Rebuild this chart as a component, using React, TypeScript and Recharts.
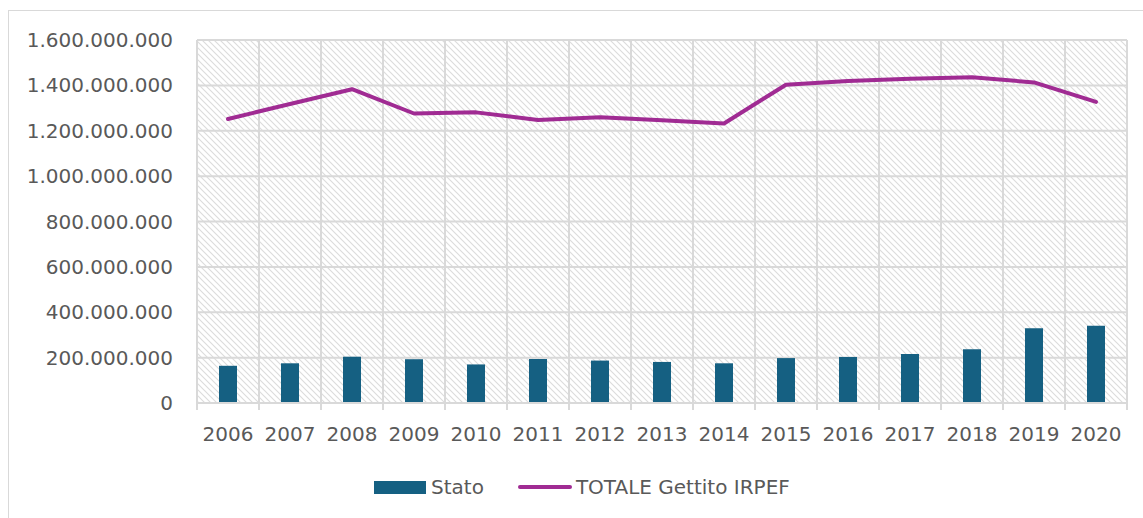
import React from "react";
import {
  ComposedChart,
  Bar,
  Line,
  XAxis,
  YAxis,
  CartesianGrid,
} from "recharts";

const years = ["2006", "2007", "2008", "2009", "2010", "2011", "2012", "2013", "2014", "2015", "2016", "2017", "2018", "2019", "2020"];
// values in millions of euro
const statoMillions = [164, 175, 204, 193, 170, 194, 187, 181, 175, 198, 203, 216, 237, 329, 341];
const totaleMillions = [1252, 1318, 1383, 1276, 1281, 1247, 1259, 1246, 1232, 1403, 1419, 1429, 1436, 1413, 1327];
const yTicks = [0, 200000000, 400000000, 600000000, 800000000, 1000000000, 1200000000, 1400000000, 1600000000];

const seriesNames = { stato: "Stato", totale: "TOTALE Gettito IRPEF" };

const data = years.map((y, i) => ({
  year: y,
  stato: statoMillions[i] * 1000000,
  totale: totaleMillions[i] * 1000000,
}));

const FONT = "'DejaVu Sans', sans-serif";
const TEXT = "#595959";
const GRID = "#d9d9d9";
const BAR = "#156082";
const LINE = "#A02B93";

const W = 1143;
const H = 518;

const fmt = (v: number) =>
  v === 0 ? "0" : Math.round(v).toString().replace(/\B(?=(\d{3})+(?!\d))/g, ".");

const XTick = (props: any) => {
  const { x, y, payload, index, visibleTicksCount } = props;
  const half = payload && typeof payload.offset === "number" ? payload.offset : 31;
  const axisY = y - 7;
  const last = index === (visibleTicksCount ?? years.length) - 1;
  return (
    <g>
      <line x1={x - half} x2={x - half} y1={axisY} y2={axisY + 7} stroke={GRID} strokeWidth={2} />
      {last && <line x1={x + half} x2={x + half} y1={axisY} y2={axisY + 7} stroke={GRID} strokeWidth={2} />}
      <text x={x} y={axisY + 38} textAnchor="middle" fill={TEXT} fontFamily={FONT} fontSize={20}>
        {payload.value}
      </text>
    </g>
  );
};

export default function App() {
  return (
    <div style={{ position: "fixed", left: 0, top: 0, width: W, height: H, overflow: "hidden", background: "#fff" }}>
      <div
        style={{
          position: "absolute",
          left: 8,
          top: 10,
          width: W + 20,
          height: H + 20,
          borderLeft: `1.5px solid ${GRID}`,
          borderTop: `1.5px solid ${GRID}`,
        }}
      />
      <div style={{ position: "absolute", left: 0, top: 0 }}>
        <ComposedChart
          width={W}
          height={H}
          data={data}
          margin={{ top: 40, right: 16, left: 0, bottom: 75 }}
          barSize={18}
        >
          <defs>
            <pattern id="hatch" width={6} height={6} patternUnits="userSpaceOnUse">
              <rect width={6} height={6} fill="#ffffff" />
              <path d="M-1,-1 L7,7 M-1,5 L1,7 M5,-1 L7,1" stroke="#dcdcdc" strokeWidth={1.1} />
            </pattern>
          </defs>
          <CartesianGrid
            stroke={GRID}
            strokeWidth={2}
            fill="url(#hatch)"
            fillOpacity={1}
            verticalCoordinatesGenerator={({ offset }: any) =>
              years.map((_, i) => offset.left + (i * offset.width) / years.length).concat([offset.left + offset.width])
            }
          />
          <XAxis
            dataKey="year"
            height={40}
            tickLine={false}
            tickSize={7}
            tickMargin={0}
            axisLine={{ stroke: GRID, strokeWidth: 2 }}
            tick={<XTick />}
            interval={0}
          />
          <YAxis
            width={197}
            domain={[0, 1600000000]}
            ticks={yTicks}
            tickFormatter={fmt}
            axisLine={false}
            tickLine={false}
            tickSize={0}
            tickMargin={24}
            tick={{ fill: TEXT, fontFamily: FONT, fontSize: 20 }}
            interval={0}
          />
          <Bar dataKey="stato" name={seriesNames.stato} fill={BAR} isAnimationActive={false} />
          <Line
            dataKey="totale"
            name={seriesNames.totale}
            stroke={LINE}
            strokeWidth={4}
            dot={false}
            activeDot={false}
            type="linear"
            strokeLinecap="round"
            strokeLinejoin="round"
            isAnimationActive={false}
          />
        </ComposedChart>
      </div>
      <div
        style={{
          position: "absolute",
          left: 374,
          top: 474,
          display: "flex",
          alignItems: "center",
          fontFamily: FONT,
          fontSize: 20,
          color: TEXT,
          whiteSpace: "nowrap",
          height: 26,
        }}
      >
        <span style={{ display: "inline-block", width: 52, height: 13, background: BAR, marginRight: 5 }} />
        <span>{seriesNames.stato}</span>
        <span
          style={{
            display: "inline-block",
            width: 54,
            height: 4,
            borderRadius: 2,
            background: LINE,
            marginLeft: 34,
            marginRight: 4,
          }}
        />
        <span>{seriesNames.totale}</span>
      </div>
    </div>
  );
}
